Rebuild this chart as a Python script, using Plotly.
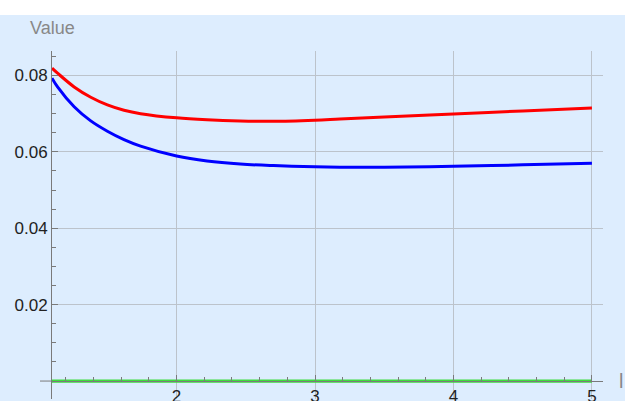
import plotly.graph_objects as go

# Sample positions along the horizontal axis
x_vals = [1.1, 1.14, 1.26, 1.38, 1.5, 1.62, 1.74, 2.0, 2.22, 2.46, 2.7, 3.0, 3.18, 3.5,
          4.0, 4.5, 5.0]

# Upper curve (red)
red_vals = [0.0819, 0.0806, 0.0770, 0.0743, 0.0723, 0.0709, 0.0700, 0.0689, 0.0684,
            0.0681, 0.0680, 0.0683, 0.0686, 0.0691, 0.0699, 0.0707, 0.0715]

# Lower curve (blue)
blue_vals = [0.0793, 0.0770, 0.0718, 0.0681, 0.0654, 0.0632, 0.0615, 0.0589, 0.0576,
             0.0568, 0.0564, 0.0561, 0.0560, 0.0560, 0.0562, 0.0566, 0.0570]

# Baseline (green)
green_x = [1.1, 5.0]
green_vals = [0.0, 0.0]

x_ticks = [2, 3, 4, 5]
y_ticks = [0.02, 0.04, 0.06, 0.08]
y_tick_text = ["0.02", "0.04", "0.06", "0.08"]

BG = "#DDEDFE"
GRID = "#BCC3CB"
AXIS = "#7A7A7A"
FONT = "Liberation Sans, Arial, sans-serif"

fig = go.Figure()
fig.add_trace(go.Scatter(x=green_x, y=green_vals, mode="lines",
                         line=dict(color="#3CDC3C", width=3.2)))
fig.add_trace(go.Scatter(x=x_vals, y=blue_vals, mode="lines",
                         line=dict(color="#0000FF", width=3, shape="spline", smoothing=1.0)))
fig.add_trace(go.Scatter(x=x_vals, y=red_vals, mode="lines",
                         line=dict(color="#FF0000", width=3, shape="spline", smoothing=1.0)))

tick_font = dict(family=FONT, size=17, color="#222222")

fig.update_layout(
    width=625, height=401,
    margin=dict(l=52, r=22, t=51, b=2),
    paper_bgcolor=BG, plot_bgcolor=BG,
    showlegend=False,
    hovermode=False,
    xaxis=dict(
        range=[1.1, 5.08],
        automargin=False,
        anchor="free", position=0.0516,
        tickvals=x_ticks, ticktext=[str(t) for t in x_ticks],
        ticks="inside", ticklen=6, tickcolor=AXIS, tickwidth=1,
        showline=True, linecolor=AXIS, linewidth=1,
        showgrid=True, gridcolor=GRID, gridwidth=1,
        zeroline=False,
        tickfont=tick_font,
        minor=dict(tick0=1.0, dtick=0.2, ticks="inside", ticklen=4,
                   tickcolor=AXIS, showgrid=False),
    ),
    yaxis=dict(
        range=[-0.0047, 0.0864],
        automargin=False,
        tickvals=y_ticks, ticktext=y_tick_text,
        ticks="inside", ticklen=6, tickcolor=AXIS, tickwidth=1,
        showline=True, linecolor=AXIS, linewidth=1,
        showgrid=True, gridcolor=GRID, gridwidth=1,
        zeroline=True, zerolinecolor=AXIS, zerolinewidth=1,
        tickfont=tick_font,
        minor=dict(tick0=0.0, dtick=0.005, ticks="inside", ticklen=4,
                   tickcolor=AXIS, showgrid=False),
    ),
    shapes=[
        # white strip along the top edge
        dict(type="rect", xref="paper", yref="paper",
             x0=-0.2, x1=1.2, y0=1 + 36 / 348, y1=1.3,
             fillcolor="white", line=dict(width=0), layer="above"),
        # short extension of the horizontal axis to the left
        dict(type="line", xref="paper", yref="y",
             x0=-12 / 551, x1=0, y0=0, y1=0,
             line=dict(color=AXIS, width=1)),
    ],
    annotations=[
        dict(text="Value", xref="paper", yref="paper", x=0.0, y=1 + 23 / 348,
             xanchor="center", yanchor="middle", showarrow=False,
             font=dict(family=FONT, size=18, color="#888888")),
        dict(text="l", xref="paper", yref="paper", x=(617 - 52) / 551, y=(399 - 381) / 348,
             xanchor="left", yanchor="middle", showarrow=False,
             font=dict(family=FONT, size=20, color="#888888")),
    ],
)

fig.write_html("out.html")
